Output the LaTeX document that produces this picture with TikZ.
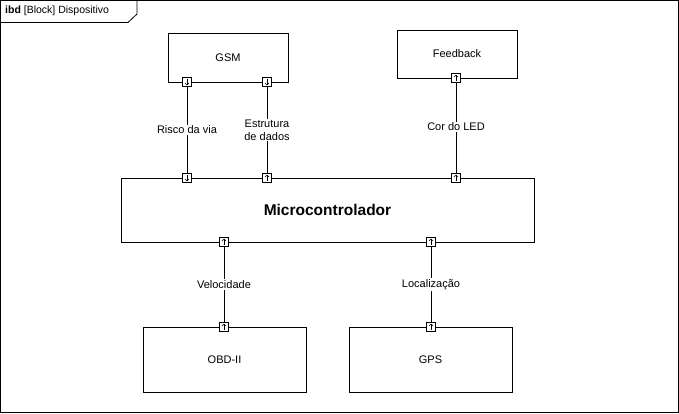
\documentclass[tikz,border=0pt]{standalone}
\usepackage{fontspec}
\setmainfont{Liberation Sans}
\begin{document}
\begin{tikzpicture}[x=1pt,y=-1pt,
  blockbox/.style={draw,line width=1pt,fill=white,inner sep=0pt,font=\fontsize{11}{13}\selectfont},
  portbox/.style={draw,line width=0.8pt,fill=white,minimum size=9pt,inner sep=0pt},
  conn/.style={line width=0.8pt},
  lbl/.style={fill=white,inner sep=1pt,font=\fontsize{11}{13}\selectfont,align=center},
  parrow/.style={line width=0.5pt}]
\useasboundingbox (0,0) rectangle (679,413);
% frame
\draw[line width=1pt] (0.5,0.5) rectangle (678,412);
\draw[line width=0.8pt] (0.5,22.5) -- (128,22.5) -- (137,14) -- (137,0.5);
\node[anchor=west,inner sep=0pt,font=\fontsize{10.5}{12}\selectfont] (title) at (5,11) {\textbf{ibd} [Block] Dispositivo};
% blocks
\node[blockbox,minimum width=120pt,minimum height=49pt] (gsm) at (228,57.5) {GSM};
\node[blockbox,minimum width=120pt,minimum height=48pt] (fb) at (457,54) {Feedback};
\node[blockbox,minimum width=413pt,minimum height=64pt,font=\fontsize{15.5}{18}\selectfont\bfseries] (mc) at (327.5,210) {Microcontrolador};
\node[blockbox,minimum width=163pt,minimum height=65pt] (obd) at (224.5,359.5) {OBD-II};
\node[blockbox,minimum width=163pt,minimum height=65pt] (gps) at (430.5,359.5) {GPS};
% ports
\node[portbox] (p1) at (187,82) {};
\node[portbox] (p2) at (267,82) {};
\node[portbox] (p3) at (456,78) {};
\node[portbox] (m1) at (187,178) {};
\node[portbox] (m2) at (267,178) {};
\node[portbox] (m3) at (456,178) {};
\node[portbox] (m4) at (224,242) {};
\node[portbox] (m5) at (431,242) {};
\node[portbox] (o1) at (224,327) {};
\node[portbox] (g1) at (431,327) {};
% connectors
\draw[conn] (p1.center) -- (m1.center) node[lbl,midway] (l1) {Risco da via};
\draw[conn] (p2.center) -- (m2.center) node[lbl,midway] (l2) {Estrutura\\de dados};
\draw[conn] (p3.center) -- (m3.center) node[lbl,pos=0.49] (l3) {Cor do LED};
\draw[conn] (m4.center) -- (o1.center) node[lbl,midway] (l4) {Velocidade};
\draw[conn] (m5.center) -- (g1.center) node[lbl,midway] (l5) {Localização};
% redraw port squares on top
\foreach \p in {p1,p2,p3,m1,m2,m3,m4,m5,o1,g1}{
  \draw[line width=0.8pt,fill=white] ([shift={(-4.5,-4.5)}]\p.center) rectangle ([shift={(4.5,4.5)}]\p.center);
}
% arrows inside ports: down
\foreach \p in {p1,p2,m1}{
  \draw[parrow] ([shift={(0,-3)}]\p.center) -- ([shift={(0,3)}]\p.center);
  \draw[parrow] ([shift={(-2,1)}]\p.center) -- ([shift={(0,3)}]\p.center) -- ([shift={(2,1)}]\p.center);
}
% up
\foreach \p in {p3,m2,m3,m4,m5,o1,g1}{
  \draw[parrow] ([shift={(0,3)}]\p.center) -- ([shift={(0,-3)}]\p.center);
  \draw[parrow] ([shift={(-2,-1)}]\p.center) -- ([shift={(0,-3)}]\p.center) -- ([shift={(2,-1)}]\p.center);
}
\end{tikzpicture}
\end{document}
